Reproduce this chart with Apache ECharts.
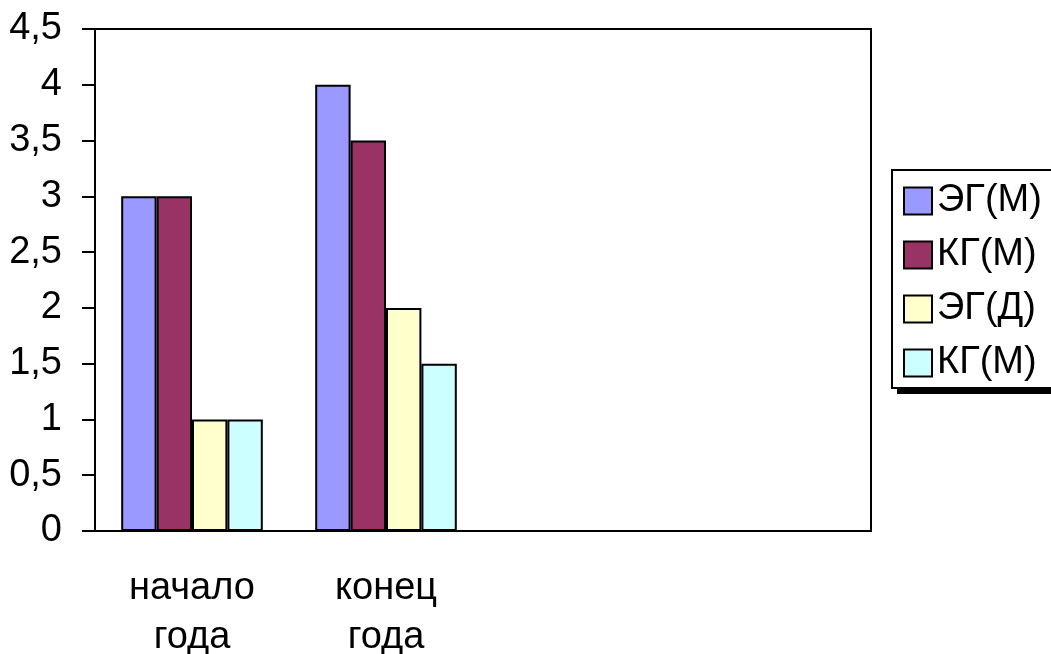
<!DOCTYPE html>
<html>
<head>
<meta charset="utf-8">
<script src="https://cdn.jsdelivr.net/npm/echarts@6/dist/echarts.min.js"></script>
<style>
  html, body { margin: 0; padding: 0; background: #fff; }
  #chart { width: 1051px; height: 654px; }
</style>
</head>
<body>
<div id="chart"></div>
<script>
// Categories (the last two slots are empty on the axis)
const categories = ['начало\nгода', 'конец\nгода', '', ''];

// Series names and values
const seriesNames = ['ЭГ(М)', 'КГ(М)', 'ЭГ(Д)', 'КГ(М) '];
const egM = [3, 4, null, null];
const kgM = [3, 3.5, null, null];
const egD = [1, 2, null, null];
const kgM2 = [1, 1.5, null, null];
const seriesColors = ['#9999FF', '#993366', '#FFFFCC', '#CCFFFF'];

// Y axis range
const yMin = 0, yMax = 4.5, yStep = 0.5;

const FONT = '"Liberation Sans", Arial, sans-serif';
const FS = 38;
const seriesData = [egM, kgM, egD, kgM2];

const chart = echarts.init(document.getElementById('chart'), null, { renderer: 'canvas' });

chart.setOption({
  backgroundColor: '#ffffff',
  animation: false,
  textStyle: { fontFamily: FONT },
  grid: {
    left: 95, top: 29, right: 180, bottom: 123,
    outerBoundsMode: 'none',
    containLabel: false,
    show: true, borderColor: '#000', borderWidth: 2, backgroundColor: 'transparent'
  },
  // legend frame with a solid drop shadow
  graphic: [
    { type: 'rect', z: 1, shape: { x: 897, y: 175, width: 200, height: 219 }, style: { fill: '#000' } },
    { type: 'rect', z: 2, shape: { x: 892, y: 170, width: 200, height: 218 }, style: { fill: '#fff', stroke: '#000', lineWidth: 2 } }
  ],
  legend: {
    orient: 'vertical',
    left: 892, top: 170,
    z: 10,
    padding: [12, 10, 5, 11],
    itemWidth: 28, itemHeight: 27, itemGap: 16,
    icon: 'rect',
    textStyle: { fontSize: FS, color: '#000', fontFamily: FONT },
    data: seriesNames
  },
  xAxis: {
    type: 'category',
    data: categories,
    axisLine: { lineStyle: { color: '#000', width: 2 } },
    axisTick: { show: false },
    axisLabel: { fontSize: FS, lineHeight: 49, color: '#000', margin: 33, fontFamily: FONT, interval: 0 },
    splitLine: { show: false }
  },
  yAxis: {
    type: 'value',
    min: yMin, max: yMax, interval: yStep,
    axisLine: { show: true, lineStyle: { color: '#000', width: 2 } },
    axisTick: { show: true, length: 13, lineStyle: { color: '#000', width: 2 } },
    axisLabel: {
      fontSize: FS, color: '#000', margin: 33, fontFamily: FONT,
      formatter: v => String(v).replace('.', ',')
    },
    splitLine: { show: false }
  },
  series: seriesNames.map((name, i) => ({
    name: name,
    type: 'bar',
    data: seriesData[i],
    barGap: '0%',
    barCategoryGap: '27%',
    itemStyle: { color: seriesColors[i], borderColor: '#000', borderWidth: 2 }
  }))
});
</script>
</body>
</html>
